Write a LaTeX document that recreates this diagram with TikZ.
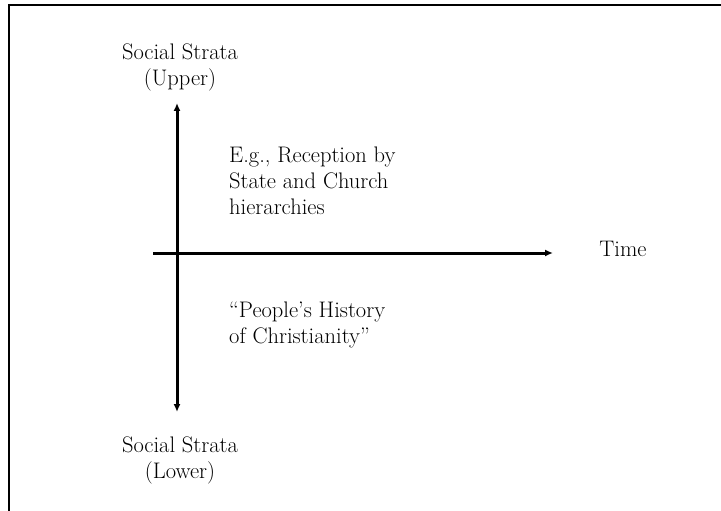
\documentclass[tikz,border=0pt]{standalone}
\usepackage{tikz}
\usetikzlibrary{arrows.meta}
\tikzstyle{axis}=[line width=3pt,black]
\tikzstyle{lbl}=[inner sep=0pt,font=\fontsize{22.5}{26}\selectfont]

\begin{document}
\begin{tikzpicture}[x=1pt,y=-1pt]
    \clip (0,0) rectangle (721,511);
    \draw [line width=2.8pt] (9,5) rectangle (760,560);
    \coordinate (top) at (177,103);
    \coordinate (bottom) at (177,412);
    \coordinate (left) at (153,253);
    \coordinate (right) at (553,253);
    \node [style=lbl,align=center] (upper) at (180,67) {Social Strata\\(Upper)};
    \node [style=lbl,align=center] (lower) at (180,460) {Social Strata\\(Lower)};
    \node [style=lbl] (time) at (623,249) {Time};
    \node [style=lbl,align=left,anchor=north west] (elite) at (229,147) {E.g., Reception by\\State and Church\\hierarchies};
    \node [style=lbl,align=left,anchor=north west] (people) at (229,302) {``People's History\\of Christianity''};
    \draw [style=axis,{Latex[length=8pt,width=7pt]}-{Latex[length=8pt,width=7pt]}] (bottom) to (top);
    \draw [style=axis,-{Latex[length=8pt,width=7pt]}] (left) to (right);
\end{tikzpicture}
\end{document}
